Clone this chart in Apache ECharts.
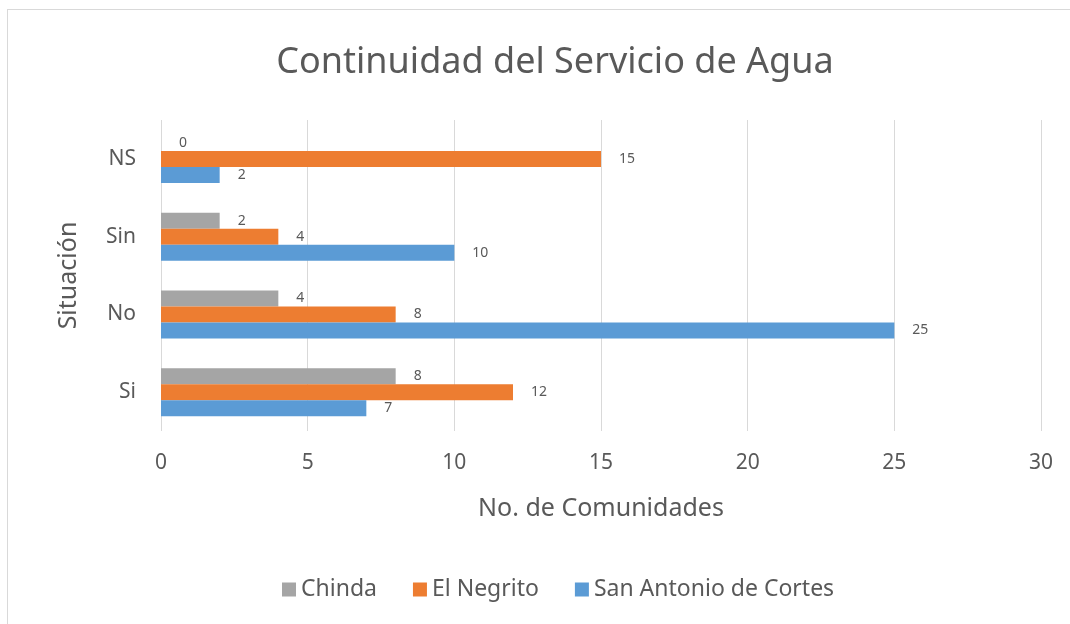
<!DOCTYPE html>
<html>
<head>
<meta charset="utf-8">
<script src="https://cdn.jsdelivr.net/npm/echarts@6/dist/echarts.min.js"></script>
<style>
  html, body { margin: 0; padding: 0; background: #fff; }
  #frame {
    position: absolute; left: 7px; top: 9px; width: 1080px; height: 640px;
    border: 1px solid #d9d9d9; box-sizing: border-box;
  }
  #chart { position: absolute; left: 0; top: 0; width: 1070px; height: 624px; }
</style>
</head>
<body>
<div id="frame"></div>
<div id="chart"></div>
<script>
// categories bottom to top, like the picture
const situaciones = ['Si', 'No', 'Sin', 'NS']
const chinda = [8, 4, 2, 0]
const elNegrito = [12, 8, 4, 15]
const sanAntonio = [7, 25, 10, 2]
const xTicks = [0, 5, 10, 15, 20, 25, 30]

const FONT = '"Noto Sans", "Open Sans", sans-serif'
const TEXT = '#595959'
const COLORS = {
  chinda: '#a5a5a5',
  negrito: '#ed7d31',
  sanAntonio: '#5b9bd5',
}

const chart = echarts.init(document.getElementById('chart'), null, { renderer: 'canvas' })

const barLabel = {
  show: true,
  position: 'right',
  distance: 18,
  color: TEXT,
  fontSize: 14,
  fontFamily: FONT,
}

const makeSeries = (name, data, color) => ({
  name,
  type: 'bar',
  data,
  barWidth: 16,
  barGap: '0%',
  itemStyle: { color },
  label: barLabel,
})

chart.setOption({
  animation: false,
  textStyle: { fontFamily: FONT },
  title: {
    text: 'Continuidad del Servicio de Agua',
    left: 550,
    textAlign: 'center',
    top: 40,
    textStyle: { fontSize: 36, fontWeight: 'normal', color: TEXT, fontFamily: FONT },
  },
  legend: {
    data: ['Chinda', 'El Negrito', 'San Antonio de Cortes'],
    left: 277,
    top: 573,
    icon: 'rect',
    itemWidth: 14,
    itemHeight: 14,
    itemGap: 36,
    textStyle: { fontSize: 23, color: TEXT, fontFamily: FONT },
  },
  grid: { left: 161, right: 29, top: 120, bottom: 193, containLabel: false },
  xAxis: {
    type: 'value',
    min: xTicks[0],
    max: xTicks[xTicks.length - 1],
    interval: xTicks[1] - xTicks[0],
    name: 'No. de Comunidades',
    nameLocation: 'middle',
    nameGap: 65,
    nameTextStyle: { fontSize: 25, color: TEXT, fontFamily: FONT },
    axisLine: { show: false },
    axisTick: { show: false },
    axisLabel: { fontSize: 21, color: TEXT, margin: 22, fontFamily: FONT },
    splitLine: { lineStyle: { color: '#d9d9d9', width: 1 } },
  },
  yAxis: {
    type: 'category',
    data: situaciones,
    name: 'Situación',
    nameLocation: 'middle',
    nameGap: 80,
    nameRotate: 90,
    nameTextStyle: { fontSize: 25, color: TEXT, fontFamily: FONT },
    axisLine: { show: false },
    axisTick: { show: false },
    axisLabel: { fontSize: 21, color: TEXT, margin: 25, fontFamily: FONT },
  },
  // first series sits on top of each group
  series: [
    makeSeries('Chinda', chinda, COLORS.chinda),
    makeSeries('El Negrito', elNegrito, COLORS.negrito),
    makeSeries('San Antonio de Cortes', sanAntonio, COLORS.sanAntonio),
  ],
})
</script>
</body>
</html>
